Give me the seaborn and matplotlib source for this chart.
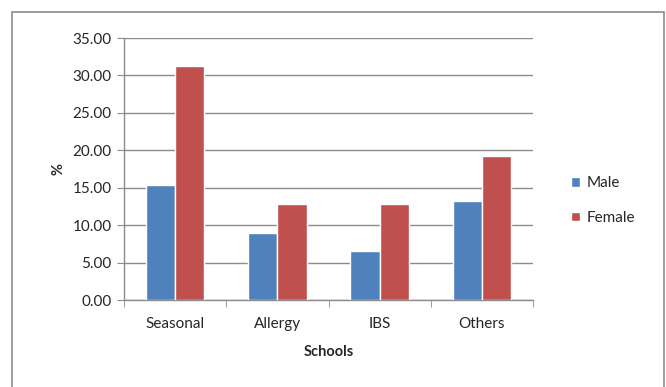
import matplotlib
matplotlib.use("Agg")
import matplotlib.pyplot as plt
from matplotlib.patches import Rectangle
from matplotlib.ticker import FormatStrFormatter, FixedLocator
import seaborn as sns
import pandas as pd

categories = ["Seasonal", "Allergy", "IBS", "Others"]
male = [15.4, 8.9, 6.6, 13.2]
female = [31.3, 12.8, 12.8, 19.3]
series = ["Male", "Female"]
colors = ["#4F81BD", "#C0504D"]

df = pd.DataFrame({
    "Schools": categories * 2,
    "value": male + female,
    "Sex": [series[0]] * len(categories) + [series[1]] * len(categories),
})

sns.set_style("white")
plt.rcParams["font.family"] = ["Lato", "DejaVu Sans"]

fig = plt.figure(figsize=(6.66, 3.87), dpi=100)
ax = fig.add_axes([124 / 666, 1 - 300 / 387, (533 - 124) / 666, (300 - 38) / 387])

sns.barplot(data=df, x="Schools", y="value", hue="Sex", palette=colors,
            width=0.57, gap=0, saturation=1, ax=ax, zorder=3, legend=True)

ax.set_ylim(0, 35)
ax.set_xlim(-0.5, 3.5)
ax.set_yticks(range(0, 36, 5))
ax.yaxis.set_major_formatter(FormatStrFormatter("%.2f"))
ax.yaxis.grid(True, color="#8c8c8c", linewidth=1, zorder=0)
ax.set_axisbelow(True)

for s in ["top", "right"]:
    ax.spines[s].set_visible(False)
for s in ["left", "bottom"]:
    ax.spines[s].set_color("#8c8c8c")
    ax.spines[s].set_linewidth(1)

ax.tick_params(axis="y", which="major", left=True, length=5, color="#8c8c8c",
               labelsize=11, pad=4)
ax.tick_params(axis="x", which="major", bottom=False, labelsize=11, pad=9)
ax.xaxis.set_minor_locator(FixedLocator([-0.5, 0.5, 1.5, 2.5, 3.5]))
ax.tick_params(axis="x", which="minor", bottom=True, length=5, color="#8c8c8c")

ax.set_xlabel("Schools", fontsize=10.5, fontweight="bold", labelpad=10)
ax.set_ylabel("%", fontsize=10.5, fontweight="bold", labelpad=5)

leg = ax.legend(loc="center left", bbox_to_anchor=(1.06, 0.38), frameon=False,
                fontsize=11, handlelength=0.6, handleheight=0.6,
                labelspacing=1.35, handletextpad=0.4)

fig.patches.append(Rectangle((11.5 / 666, -0.1), (664 - 11.5) / 666, 1.1 - 12 / 387,
                             transform=fig.transFigure, fill=False,
                             edgecolor="#8c8c8c", linewidth=1.2))

fig.savefig("out.png", dpi=100)
